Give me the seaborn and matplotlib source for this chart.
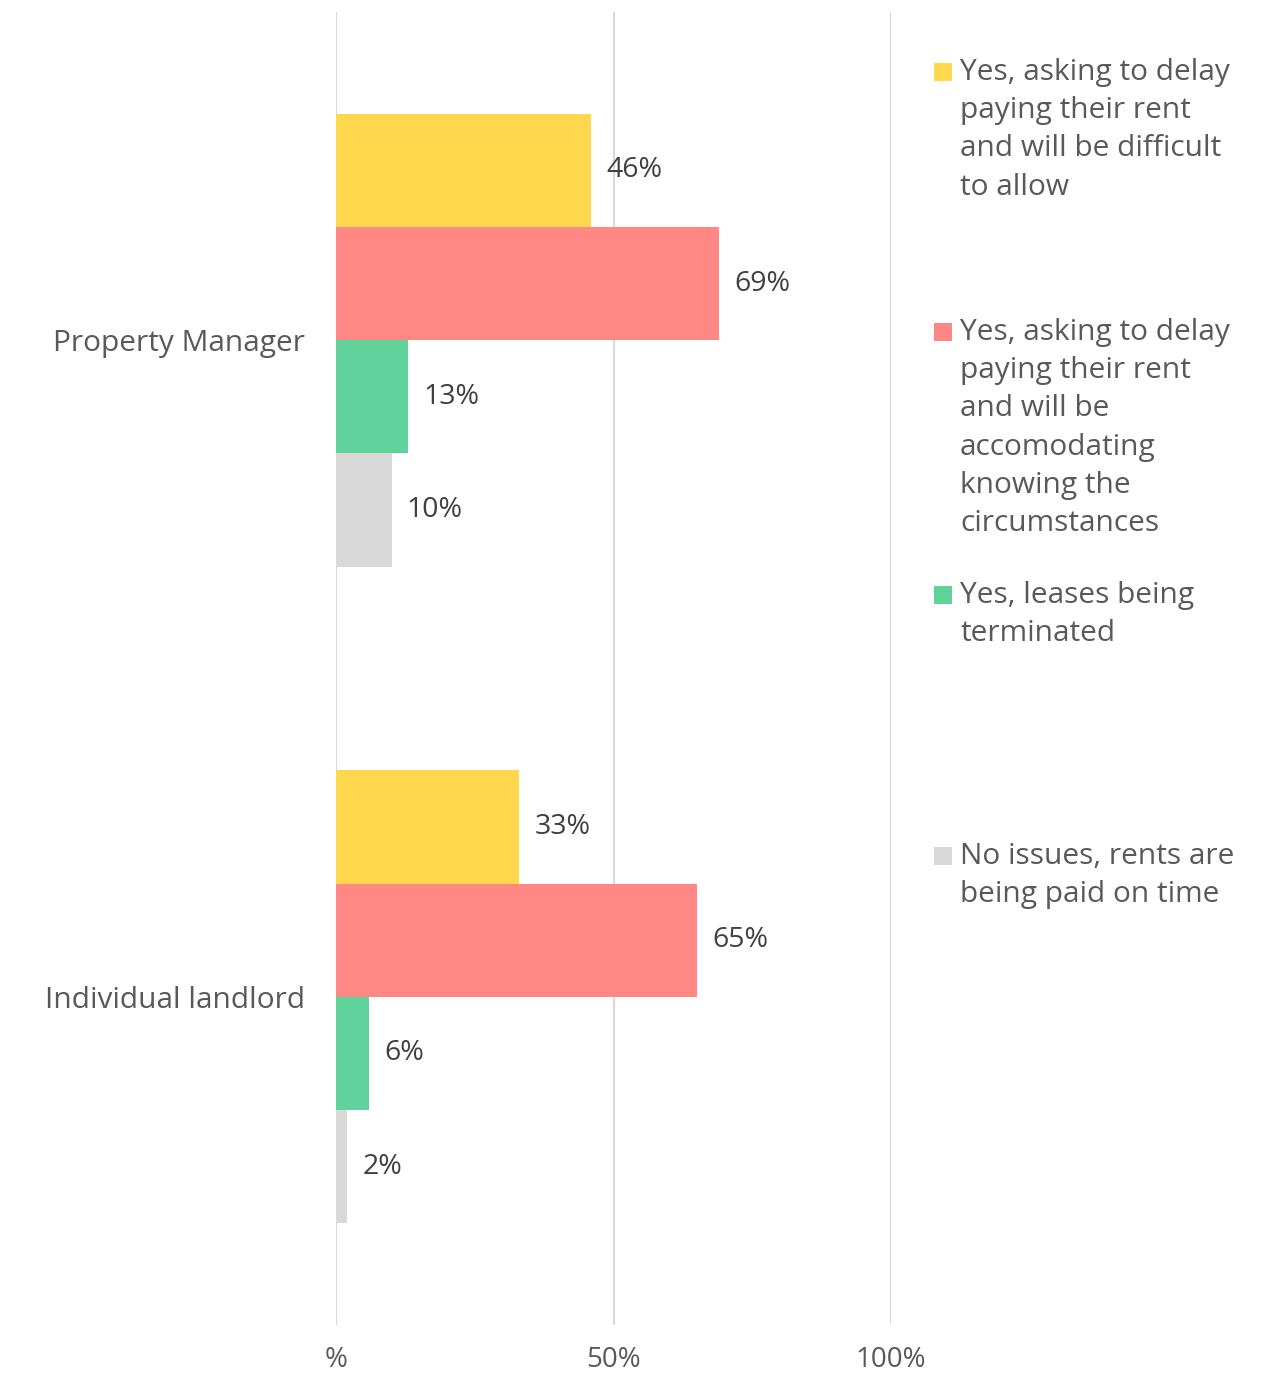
import pandas as pd
import matplotlib.pyplot as plt
import seaborn as sns
from matplotlib.patches import Rectangle

sns.set_style("white")
plt.rcParams["font.family"] = ["Open Sans", "DejaVu Sans"]

# data
groups = ["Property Manager", "Individual landlord"]
series = [
    "Yes, asking to delay\npaying their rent\nand will be difficult\nto allow",
    "Yes, asking to delay\npaying their rent\nand will be\naccomodating\nknowing the\ncircumstances",
    "Yes, leases being\nterminated",
    "No issues, rents are\nbeing paid on time",
]
pm_values = [46, 69, 13, 10]
landlord_values = [33, 65, 6, 2]
colors = ["#FFD84D", "#FF8784", "#5FD39B", "#D9D9D9"]
xticks = [0, 50, 100]
xtick_labels = ["%", "50%", "100%"]

rows = []
for s, a, b in zip(series, pm_values, landlord_values):
    rows.append({"group": groups[0], "series": s, "value": a})
    rows.append({"group": groups[1], "series": s, "value": b})
df = pd.DataFrame(rows)

text_color = "#595959"
fig = plt.figure(figsize=(12.74, 13.76), dpi=100)
ax = fig.add_axes([336 / 1274, 1 - 1325 / 1376, (891 - 336) / 1274, (1325 - 12) / 1376])

sns.barplot(data=df, x="value", y="group", hue="series", hue_order=series,
            order=groups, palette=colors, orient="h", width=0.69,
            saturation=1, linewidth=0, legend=False, ax=ax)

for cont in ax.containers:
    ax.bar_label(cont, labels=[f"{v:.0f}%" for v in cont.datavalues],
                 padding=11, fontsize=20.5, color="#404040")

ax.set_xlim(0, 100)
ax.set_ylim(1.5, -0.5)
ax.set_xticks(xticks)
ax.set_xticklabels(xtick_labels)
ax.grid(axis="x", color="#D9D9D9", linewidth=1.5)
ax.set_axisbelow(True)
for sp in ax.spines.values():
    sp.set_visible(False)
ax.tick_params(axis="x", length=0, pad=15, labelsize=20, labelcolor=text_color)
ax.tick_params(axis="y", length=0, pad=22, labelsize=21.5, labelcolor=text_color)
ax.set_xlabel("")
ax.set_ylabel("")

# legend drawn entry by entry
legend_tops = [72, 332, 595, 856]
for s, c, top in zip(series, colors, legend_tops):
    fig.patches.append(Rectangle((934 / 1274, 1 - (top + 9) / 1376), 18 / 1274, 18 / 1376,
                                 transform=fig.transFigure, facecolor=c, edgecolor="none"))
    fig.text(960 / 1274, 1 - (top - 14) / 1376, s, fontsize=21.5, color=text_color,
             va="top", ha="left", linespacing=1.42)

plt.savefig("out.png", dpi=100)
plt.close()
